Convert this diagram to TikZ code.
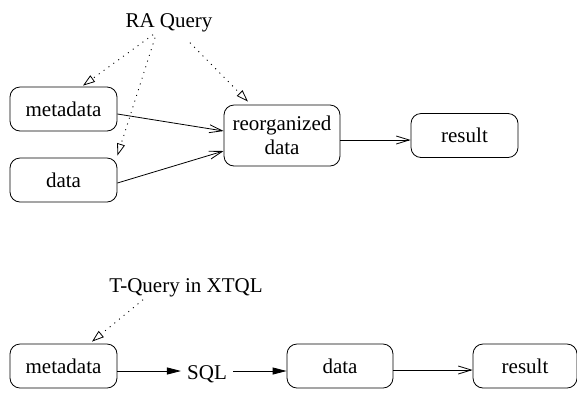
\documentclass[tikz,border=0pt]{standalone}
\usepackage{fontspec}
\setmainfont{Liberation Serif}
\usetikzlibrary{arrows.meta,calc}
\begin{document}
\begin{tikzpicture}[x=1pt,y=-1pt,
  box/.style={draw, rounded corners=10pt, line width=0.8pt, minimum width=107pt, minimum height=44pt, inner sep=0pt, font=\fontsize{21}{24}\selectfont, align=center},
  lbl/.style={inner sep=0pt, font=\fontsize{21}{24}\selectfont},
  barb/.style={line width=0.8pt, -{Straight Barb[length=13pt,width=8pt,line width=0.8pt]}},
  query/.style={line width=0.9pt, dash pattern=on 1pt off 5pt, -{Triangle[open,length=12pt,width=8pt,line width=0.8pt]}},
  solidtip/.style={line width=0.8pt, -{Triangle[length=14pt,width=7pt]}}
]
\useasboundingbox (0,0) rectangle (577,392);
% top
\node[lbl, anchor=base] (ra) at (169,27) {RA Query};
\node[box] (meta) at (63.5,109) {metadata};
\node[box] (data) at (63.5,180) {data};
\node[box, minimum width=116pt, minimum height=61pt] (reorg) at (282,135.5) {reorganized\\data};
\node[box] (res) at (464.5,135.5) {result};
\draw[query] ([xshift=-16pt,yshift=-3pt]ra.south) -- ([xshift=19.5pt,yshift=1pt]meta.north);
\draw[query] ([xshift=-14pt,yshift=-6pt]ra.south) -- ([yshift=2pt]data.north east);
\draw[query] ([xshift=21pt,yshift=-11pt]ra.south) -- ([xshift=-34pt,yshift=3pt]reorg.north);
\draw[barb] ([yshift=-5pt]meta.east) -- ([yshift=4.5pt]reorg.west);
\draw[barb] ([yshift=-3pt]data.east) -- ([yshift=-15.5pt]reorg.west);
\draw[barb] ([yshift=-4.5pt]reorg.east) -- ([yshift=-4.5pt]res.west);
% bottom
\node[lbl, anchor=base] (tq) at (186,292) {T-Query in XTQL};
\node[box] (meta2) at (63.5,366) {metadata};
\node[lbl, inner xsep=6pt, anchor=base] (sql) at (207,379) {SQL};
\node[box, minimum width=106pt] (data2) at (340,366) {data};
\node[box, minimum width=104pt] (res2) at (525,366) {result};
\draw[query] ([xshift=-43pt,yshift=-3pt]tq.south) -- ([xshift=28.5pt,yshift=2pt]meta2.north);
\draw[solidtip] ($(meta2.east)+(0,5)$) -- ($(meta2.east -| sql.west)+(0,5)$);
\draw[solidtip] ($(meta2.east -| sql.east)+(0,5)$) -- ($(data2.west)+(0,5)$);
\draw[barb] ([yshift=-4pt]data2.east) -- ([yshift=-4pt]res2.west);
\end{tikzpicture}
\end{document}
